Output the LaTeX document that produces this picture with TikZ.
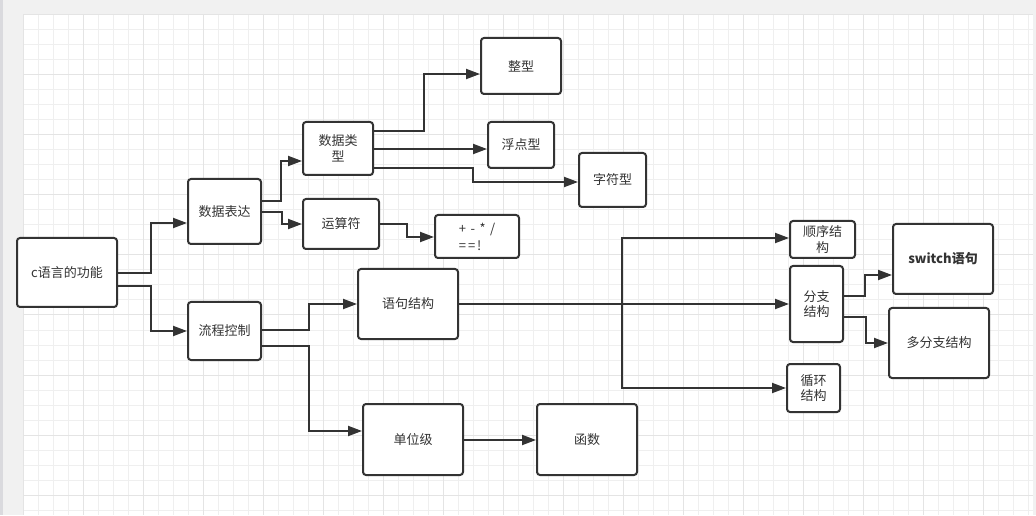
\documentclass[tikz,border=0pt]{standalone}
\usepackage{fontspec}
\newfontfamily\cjk{Noto Sans CJK SC}
\usetikzlibrary{arrows.meta}
\definecolor{ink}{HTML}{333333}
\definecolor{txt}{HTML}{333333}
\definecolor{margin}{HTML}{F1F1F1}
\definecolor{strip}{HTML}{DADADE}
\definecolor{gridminor}{HTML}{EFEFEF}
\definecolor{gridmajor}{HTML}{E4E4E4}
\tikzset{
  box/.style={draw=ink, line width=2pt, rounded corners=3pt, fill=white,
    inner sep=0pt, align=center, text=txt,
    font=\cjk\fontsize{13}{15.5}\selectfont},
  conn/.style={draw=ink, line width=2pt, -{Triangle[length=14pt,width=10pt]}}
}
\begin{document}
\begin{tikzpicture}[x=1pt,y=-1pt]
% background
\fill[margin] (0,0) rectangle (1036,515);
\fill[strip] (0,0) rectangle (3,515);
\fill[white] (23,15) rectangle (1033,515);
\foreach \x in {23,38,...,1033} \draw[gridminor,line width=1pt] (\x,15) -- (\x,515);
\foreach \y in {15,30,...,515} \draw[gridminor,line width=1pt] (23,\y) -- (1033,\y);
\foreach \x in {23,83,...,1033} \draw[gridmajor,line width=1pt] (\x,15) -- (\x,515);
\foreach \y in {15,75,...,515} \draw[gridmajor,line width=1pt] (23,\y) -- (1033,\y);
\useasboundingbox (0,0) rectangle (1036,515);

% nodes
\node[box, minimum width=100pt, minimum height=69pt] (c) at (67,272.5) {c语言的功能};
\node[box, minimum width=73pt, minimum height=65pt] (dbd) at (224.5,211.5) {数据表达};
\node[box, minimum width=73pt, minimum height=58pt] (lckz) at (224.5,331) {流程控制};
\node[box, minimum width=70pt, minimum height=53pt] (sjlx) at (338,148.5) {数据类\\型};
\node[box, minimum width=76pt, minimum height=50pt] (ysf) at (341,224) {运算符};
\node[box, minimum width=80pt, minimum height=56pt] (zx) at (521,66) {整型};
\node[box, minimum width=66pt, minimum height=46pt] (fdx) at (521,145) {浮点型};
\node[box, minimum width=67pt, minimum height=54pt] (zfx) at (612.5,180) {字符型};
\node[box, minimum width=84pt, minimum height=43pt, align=left,
      font=\cjk\fontsize{13}{17}\selectfont] (ops) at (477,236.5)
      {+\hspace{4.5pt}-\hspace{4.5pt}*\hspace{4.5pt}/\\=\hspace{2pt}=\hspace{2pt}!};
\node[box, minimum width=100pt, minimum height=70pt] (yjjg) at (408,304) {语句结构};
\node[box, minimum width=100pt, minimum height=71pt] (dwj) at (413,439.5) {单位级};
\node[box, minimum width=100pt, minimum height=71pt] (hs) at (587,439.5) {函数};
\node[box, minimum width=65pt, minimum height=37pt] (sxjg) at (822.5,239.5) {顺序结\\构};
\node[box, minimum width=53pt, minimum height=76pt] (fzjg) at (816.5,304) {分支\\结构};
\node[box, minimum width=53pt, minimum height=48pt] (xhjg) at (813.5,388) {循环\\结构};
\node[box, minimum width=100pt, minimum height=70pt, font=\cjk\bfseries\fontsize{13}{15.5}\selectfont] (sw) at (943,259) {switch语句};
\node[box, minimum width=100pt, minimum height=70pt] (dfz) at (939,343) {多分支结构};

% connectors
\draw[conn] (c.east |- 0,273) -- (151,273) |- (dbd.west |- 0,223);
\draw[conn] (c.east |- 0,286) -- (151,286) |- (lckz.west);
\draw[conn] (dbd.east |- 0,201) -- (281,201) |- (sjlx.west |- 0,161);
\draw[conn] (dbd.east |- 0,212) -- (282,212) |- (ysf.west);
\draw[conn] (sjlx.east |- 0,131) -- (424,131) |- (zx.west |- 0,74);
\draw[conn] (sjlx.east |- 0,149) -- (fdx.west |- 0,149);
\draw[conn] (sjlx.east |- 0,168) -- (473,168) |- (zfx.west |- 0,182);
\draw[conn] (ysf.east) -- (407,224) |- (ops.west |- 0,237);
\draw[conn] (lckz.east |- 0,330) -- (309,330) |- (yjjg.west);
\draw[conn] (lckz.east |- 0,346) -- (309,346) |- (dwj.west |- 0,431);
\draw[conn] (dwj.east |- 0,440) -- (hs.west |- 0,440);
\draw[conn] (yjjg.east) -- (fzjg.west);
\draw[conn] (yjjg.east) -- (622,304) |- (sxjg.west |- 0,238);
\draw[conn] (yjjg.east) -- (622,304) |- (xhjg.west);
\draw[conn] (fzjg.east |- 0,296) -- (865,296) |- (sw.west |- 0,275);
\draw[conn] (fzjg.east |- 0,317) -- (866,317) |- (dfz.west);
\end{tikzpicture}
\end{document}
